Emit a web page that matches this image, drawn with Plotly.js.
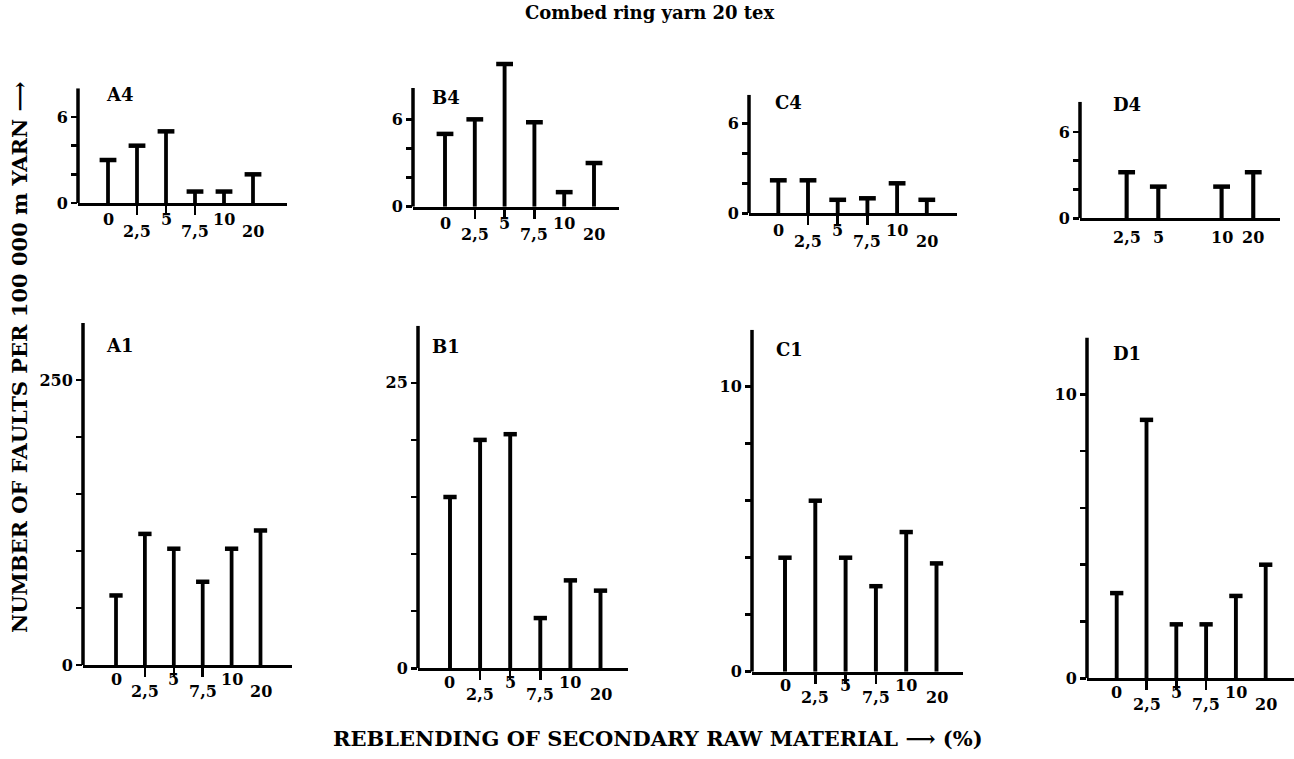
<!DOCTYPE html>
<html><head><meta charset="utf-8">
<script src="https://cdn.plot.ly/plotly-3.0.1.min.js"></script>
<style>html,body{margin:0;padding:0;background:#fff}#chart{width:1294px;height:759px}</style>
</head><body><div id="chart"></div>
<script>
// ---------- data ----------
const categories = ['0', '2,5', '5', '7,5', '10', '20'];
const tickLabels = ['0', '2,5', '5', '7,5', '10', '20'];
const tickLabelsD4 = ['', '2,5', '5', '', '10', '20'];
const panelNames = ['A4', 'B4', 'C4', 'D4', 'A1', 'B1', 'C1', 'D1'];

const valuesA4 = [3, 4, 5, 0.8, 0.8, 2];
const valuesB4 = [5, 6, 9.8, 5.8, 1, 3];
const valuesC4 = [2.2, 2.2, 0.9, 1.0, 2.0, 0.9];
const valuesD4 = [null, 3.2, 2.2, null, 2.2, 3.2];
const valuesA1 = [61, 115, 102, 73, 102, 118];
const valuesB1 = [15, 20, 20.5, 4.4, 7.7, 6.8];
const valuesC1 = [4, 6, 4, 3, 4.9, 3.8];
const valuesD1 = [3, 9.1, 1.9, 1.9, 2.9, 4];

const yTickVals4 = [0, 2, 4, 6];
const yTickText4 = ['0', '', '', '6'];
const yTickValsA1 = [0, 50, 100, 150, 200, 250];
const yTickTextA1 = ['0', '', '', '', '', '250'];
const yTickValsB1 = [0, 5, 10, 15, 20, 25];
const yTickTextB1 = ['0', '', '', '', '', '25'];
const yTickValsCD1 = [0, 2, 4, 6, 8, 10];
const yTickTextCD1 = ['0', '', '', '', '', '10'];

const mainTitle = 'Combed ring yarn 20 tex';
const yTitle = 'NUMBER OF FAULTS PER 100 000 m YARN \u27F6';
const xTitle = 'REBLENDING OF SECONDARY RAW MATERIAL \u27F6 (%)';

// ---------- layout geometry (pixels) ----------
const W = 1294, H = 759;
const FONT = 'DejaVu Serif';
const panels = [
  {vals: valuesA4, labels: tickLabels, tv: yTickVals4, tt: yTickText4, axL: 78, axR: 287, s0: 108, step: 29, base: 203, upx: 14.33, axTop: 8.0, plotTop: 8.0, row: 0, lab: [120, 95], lower: true},
  {vals: valuesB4, labels: tickLabels, tv: yTickVals4, tt: yTickText4, axL: 413, axR: 619, s0: 445, step: 29.8, base: 206.7, upx: 14.56, axTop: 8.15, plotTop: 10.1, row: 0, lab: [446, 97], lower: true},
  {vals: valuesC4, labels: tickLabels, tv: yTickVals4, tt: yTickText4, axL: 749, axR: 957, s0: 778.3, step: 29.7, base: 213.3, upx: 15, axTop: 7.9, plotTop: 7.9, row: 0, lab: [788, 102], lower: true},
  {vals: valuesD4, labels: tickLabelsD4, tv: yTickVals4, tt: yTickText4, axL: 1080, axR: 1280, s0: 1095, step: 31.65, base: 218.3, upx: 14.4, axTop: 8.1, plotTop: 8.1, row: 0, lab: [1127, 105], lower: false},
  {vals: valuesA1, labels: tickLabels, tv: yTickValsA1, tt: yTickTextA1, axL: 83, axR: 292, s0: 116, step: 28.9, base: 665, upx: 1.14, axTop: 300, plotTop: 300, row: 1, lab: [120, 345], lower: true},
  {vals: valuesB1, labels: tickLabels, tv: yTickValsB1, tt: yTickTextB1, axL: 418, axR: 628, s0: 450, step: 30.1, base: 668.3, upx: 11.42, axTop: 30, plotTop: 30, row: 1, lab: [446, 347], lower: true},
  {vals: valuesC1, labels: tickLabels, tv: yTickValsCD1, tt: yTickTextCD1, axL: 752, axR: 963, s0: 785, step: 30.3, base: 671.7, upx: 28.5, axTop: 12, plotTop: 12, row: 1, lab: [789, 350], lower: true},
  {vals: valuesD1, labels: tickLabels, tv: yTickValsCD1, tt: yTickTextCD1, axL: 1087, axR: 1294, s0: 1116.7, step: 29.8, base: 678.3, upx: 28.4, axTop: 12, plotTop: 12, row: 1, lab: [1127, 353], lower: true}
];

const px = x => x / W;
const py = y => 1 - y / H;

const data = [];
const layout = {
  width: W, height: H,
  margin: {l: 0, r: 0, t: 0, b: 0},
  paper_bgcolor: '#fff', plot_bgcolor: 'rgba(0,0,0,0)',
  showlegend: false,
  font: {family: FONT, color: '#000'},
  annotations: [], shapes: []
};

panels.forEach((p, i) => {
  const n = i + 1;
  const xa = 'x' + n, ya = 'y' + n;
  const xKey = 'xaxis' + n, yKey = 'yaxis' + n;
  const capSize = p.row === 0 ? 12 : 9.5;
  data.push({
    type: 'bar', x: categories, y: p.vals, xaxis: xa, yaxis: ya,
    width: 0.13, marker: {color: '#000', line: {width: 0}}, hoverinfo: 'skip'
  });
  data.push({
    type: 'scatter', mode: 'markers', x: categories, y: p.vals, xaxis: xa, yaxis: ya,
    marker: {symbol: 'line-ew', size: capSize, color: '#000', line: {width: 4.5, color: '#000'}},
    cliponaxis: false, hoverinfo: 'skip'
  });
  const topPx = p.base - p.plotTop * p.upx;
  const lowerTicks = p.lower ? [1, 3, 5] : [];
  layout[xKey] = {
    type: 'category', categoryorder: 'array', categoryarray: categories,
    domain: [px(p.axL), Math.min(1, px(p.axR))],
    range: [(p.axL - p.s0) / p.step, (p.axR - p.s0) / p.step],
    anchor: ya, showgrid: false, zeroline: false,
    showline: true, linewidth: 3, linecolor: '#000',
    ticks: 'outside', tickvals: lowerTicks, ticktext: lowerTicks.map(() => ''),
    ticklen: 9, tickwidth: 2.5, tickcolor: '#000', showticklabels: false, fixedrange: true
  };
  layout[yKey] = {
    domain: [py(p.base), py(topPx)],
    range: [0, p.plotTop], anchor: xa,
    showgrid: false, zeroline: false, showline: false,
    ticks: 'outside', ticklen: 6, tickwidth: 2.5, tickcolor: '#000',
    tickvals: p.tv, ticktext: p.tt,
    tickfont: {family: FONT, size: 16, color: '#000', weight: 'bold'}, fixedrange: true
  };
  // y axis line
  layout.shapes.push({
    type: 'line', xref: xa + ' domain', yref: ya, x0: 0, x1: 0, y0: 0, y1: p.axTop,
    line: {color: '#000', width: 3.5}
  });
  // x tick labels (staggered), positioned by category index
  const upOff = p.row === 0 ? 17 : 14;
  const lowOff = p.row === 0 ? 28 : 26;
  p.labels.forEach((t, k) => {
    if (!t) return;
    let off = (k % 2 === 0) ? upOff : lowOff;
    if (!p.lower) off = 19;
    layout.annotations.push({
      xref: xa, yref: 'paper', x: k, y: py(p.base + off),
      text: '<b>' + t + '</b>', showarrow: false, xanchor: 'center', yanchor: 'middle',
      font: {family: FONT, size: 16, color: '#000'}
    });
  });
  // panel name
  layout.annotations.push({
    xref: 'paper', yref: 'paper', x: px(p.lab[0]), y: py(p.lab[1]),
    text: '<b>' + panelNames[i] + '</b>', showarrow: false, xanchor: 'center', yanchor: 'middle',
    font: {family: FONT, size: 18, color: '#000'}
  });
});

layout.annotations.push({
  xref: 'paper', yref: 'paper', x: px(650), y: py(12),
  text: '<b>' + mainTitle + '</b>', showarrow: false, xanchor: 'center', yanchor: 'middle',
  font: {family: FONT, size: 18, color: '#000'}
});
layout.annotations.push({
  xref: 'paper', yref: 'paper', x: px(20), y: py(357),
  text: '<b>' + yTitle + '</b>', showarrow: false, textangle: -90, xanchor: 'center', yanchor: 'middle',
  font: {family: FONT, size: 21, color: '#000'}
});
layout.annotations.push({
  xref: 'paper', yref: 'paper', x: px(658), y: py(738),
  text: '<b>' + xTitle + '</b>', showarrow: false, xanchor: 'center', yanchor: 'middle',
  font: {family: FONT, size: 21, color: '#000'}
});

Plotly.newPlot('chart', data, layout, {staticPlot: true, displayModeBar: false});
</script></body></html>
